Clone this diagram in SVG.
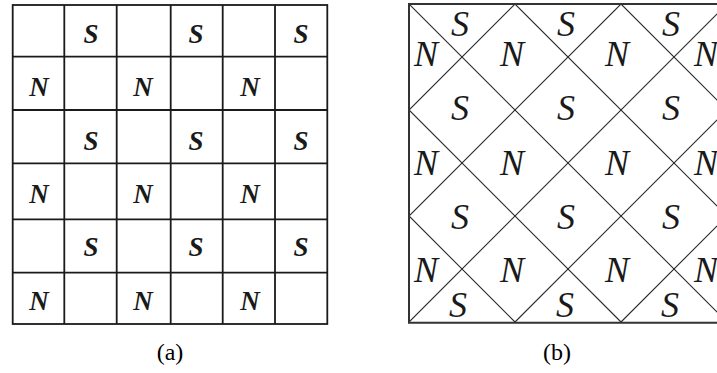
<svg xmlns="http://www.w3.org/2000/svg" width="717" height="373" viewBox="0 0 717 373">
<style>
.grid{stroke:#1a1a1a;stroke-width:1.8;fill:none}
.diag{stroke:#2a2a2a;stroke-width:1.1;fill:none}
.bord{stroke:#333;stroke-width:2;fill:none}
.la{font-family:"Liberation Serif","Times New Roman",serif;font-style:italic;font-weight:bold;font-size:27px;fill:#1a1a1a;text-anchor:middle}
.lb{font-family:"Liberation Serif","Times New Roman",serif;font-style:italic;font-size:36px;fill:#1a1a1a;text-anchor:middle}
.cap{font-family:"Liberation Serif","Times New Roman",serif;font-size:24px;fill:#000;text-anchor:middle}
</style>
<defs>
<clipPath id="cb"><rect x="409" y="4" width="320" height="319"/></clipPath>
</defs>
<g id="panel-a">
<rect class="grid" x="12.7" y="5" width="314.6" height="319"/>
<path class="grid" d="M64.3 5V324M116.7 5V324M170.7 5V324M222.7 5V324M275 5V324M12.7 56.7H327.3M12.7 110H327.3M12.7 163.3H327.3M12.7 219.3H327.3M12.7 272.7H327.3"/>
<g class="la">
<text x="91" y="42.5">S</text><text x="196" y="42.5">S</text><text x="301" y="42.5">S</text>
<text x="39" y="96">N</text><text x="143" y="96">N</text><text x="250" y="96">N</text>
<text x="91" y="149.5">S</text><text x="196" y="149.5">S</text><text x="301" y="149.5">S</text>
<text x="39" y="202.5">N</text><text x="143" y="202.5">N</text><text x="250" y="202.5">N</text>
<text x="91" y="256">S</text><text x="196" y="256">S</text><text x="301" y="256">S</text>
<text x="39" y="309.5">N</text><text x="143" y="309.5">N</text><text x="250" y="309.5">N</text>
</g>
<text class="cap" x="170" y="360">(a)</text>
</g>
<g id="panel-b">
<g clip-path="url(#cb)" class="diag">
<path d="M409 4L727 322M515 4L727 216M621 4L727 110M409 110L621 322M409 216L515 322"/>
<path d="M515 4L409 110M621 4L409 216M727 4L409 322M727 110L515 322M727 216L621 322"/>
</g>
<path class="bord" d="M720 4H409V322.7H720"/>
<g class="lb">
<text x="460" y="36">S</text><text x="566" y="36">S</text><text x="671" y="36">S</text>
<text x="426" y="66">N</text><text x="512" y="66">N</text><text x="617" y="66">N</text><text x="706" y="66">N</text>
<text x="460" y="120">S</text><text x="566" y="120">S</text><text x="671" y="120">S</text>
<text x="426" y="175">N</text><text x="512" y="175">N</text><text x="617" y="175">N</text><text x="706" y="175">N</text>
<text x="460" y="229">S</text><text x="566" y="229">S</text><text x="671" y="229">S</text>
<text x="426" y="282">N</text><text x="512" y="282">N</text><text x="617" y="282">N</text><text x="706" y="282">N</text>
<text x="458" y="317">S</text><text x="565" y="317">S</text><text x="670" y="317">S</text>
</g>
<text class="cap" x="557" y="360">(b)</text>
</g>
</svg>
